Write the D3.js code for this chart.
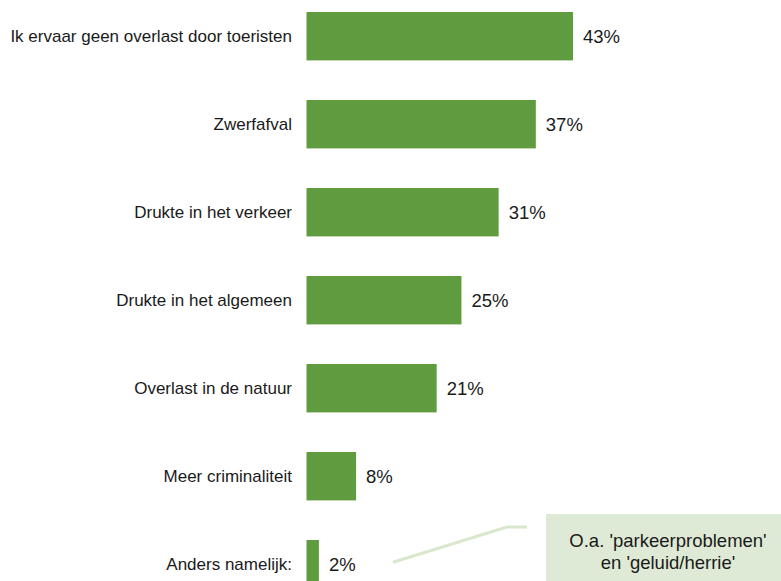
<!DOCTYPE html>
<html>
<head>
<meta charset="utf-8">
<script src="https://cdn.jsdelivr.net/npm/d3@7"></script>
<style>
  body { margin: 0; background: #fff; }
  svg { display: block; font-family: "Liberation Sans", Arial, sans-serif; }
</style>
</head>
<body>
<div id="chart"></div>
<script>
// Overlast door toeristen - horizontal bars
const categories = [
    "Ik ervaar geen overlast door toeristen",
    "Zwerfafval",
    "Drukte in het verkeer",
    "Drukte in het algemeen",
    "Overlast in de natuur",
    "Meer criminaliteit",
    "Anders namelijk:"
];
const values = [43, 37, 31, 25, 21, 8, 2];
const noteLines = ["O.a. 'parkeerproblemen'", "en 'geluid/herrie'"];

const width = 781, height = 581;

const svg = d3.select("#chart")
    .append("svg")
    .attr("width", width)
    .attr("height", height);

const yScale = d3.scaleBand()
    .domain(categories)
    .range([-7.8, 608.2])
    .paddingInner(0.45)
    .paddingOuter(0.225);

const xScale = d3.scaleLinear()
    .domain([0, 43])
    .range([306.5, 573]);

const data = categories.map((c, i) => ({ cat: c, val: values[i] }));

// Bars
svg.selectAll("rect.bar")
    .data(data)
    .enter()
    .append("rect")
    .attr("class", "bar")
    .attr("x", xScale(0))
    .attr("y", d => yScale(d.cat))
    .attr("width", d => xScale(d.val) - xScale(0))
    .attr("height", yScale.bandwidth())
    .attr("fill", "#5f9b3f");

// Category labels
svg.selectAll("text.cat")
    .data(data)
    .enter()
    .append("text")
    .attr("class", "cat")
    .attr("x", 292)
    .attr("y", d => yScale(d.cat) + yScale.bandwidth() / 2)
    .attr("dy", "0.35em")
    .attr("text-anchor", "end")
    .attr("font-size", "17px")
    .attr("fill", "#1a1a1a")
    .text(d => d.cat);

// Value labels
svg.selectAll("text.val")
    .data(data)
    .enter()
    .append("text")
    .attr("class", "val")
    .attr("x", d => xScale(d.val) + 10)
    .attr("y", d => yScale(d.cat) + yScale.bandwidth() / 2)
    .attr("dy", "0.35em")
    .attr("font-size", "18.5px")
    .attr("fill", "#1a1a1a")
    .text(d => d.val + "%");

// Annotation callout
const lastY = yScale(categories[categories.length - 1]) + yScale.bandwidth() / 2;
svg.append("polyline")
    .attr("points", `393,${lastY - 2} 507,527 527,527`)
    .attr("fill", "none")
    .attr("stroke", "#d9e8cd")
    .attr("stroke-width", 3);

svg.append("rect")
    .attr("x", 546)
    .attr("y", 514)
    .attr("width", 240)
    .attr("height", 80)
    .attr("fill", "#dfead6");

svg.selectAll("text.note")
    .data(noteLines)
    .enter()
    .append("text")
    .attr("class", "note")
    .attr("x", 668)
    .attr("y", (d, i) => 547 + i * 22)
    .attr("text-anchor", "middle")
    .attr("font-size", "18.5px")
    .attr("fill", "#1a1a1a")
    .text(d => d);
</script>
</body>
</html>
